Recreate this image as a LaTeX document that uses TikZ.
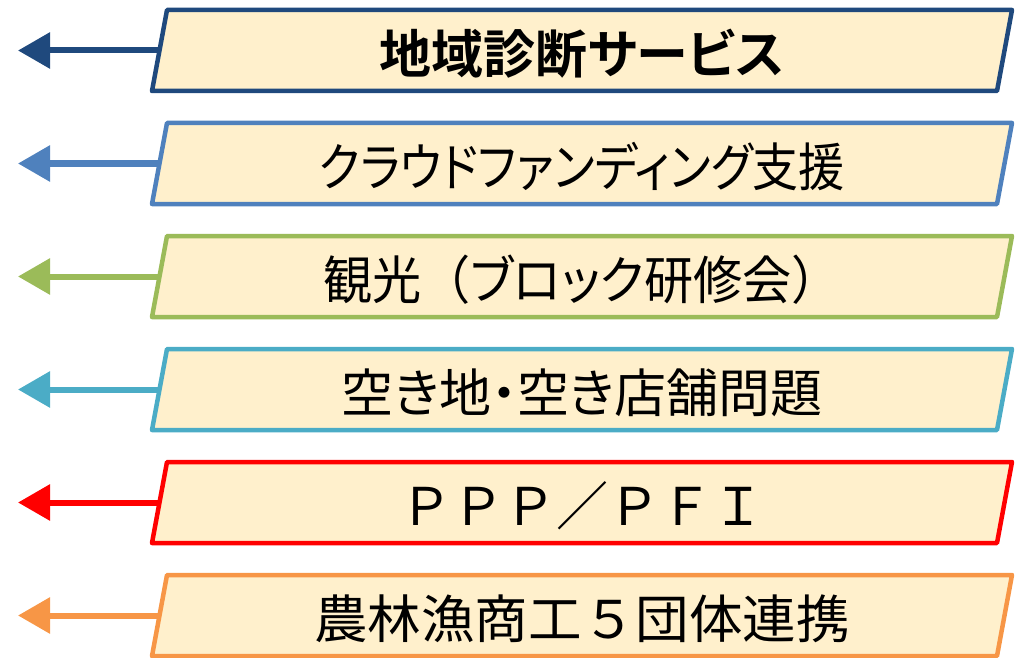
\documentclass[tikz,border=0pt]{standalone}
\usepackage{fontspec}
\usepackage{graphicx}
\newfontfamily\jpfull{Noto Sans CJK JP}[BoldFont={Noto Sans CJK JP Bold}]
\newfontfamily\jpprop{Noto Sans CJK JP}[RawFeature=+palt,BoldFont={Noto Sans CJK JP Bold}]
\usetikzlibrary{arrows.meta}
\definecolor{cA}{HTML}{1F497D}
\definecolor{cB}{HTML}{4F81BD}
\definecolor{cC}{HTML}{9BBB59}
\definecolor{cD}{HTML}{4BACC6}
\definecolor{cE}{HTML}{FF0000}
\definecolor{cF}{HTML}{F79646}
\definecolor{boxfill}{HTML}{FFF0CC}
\tikzset{
  panel/.style={line width=4.5pt, line join=round, fill=boxfill},
  lbl/.style={anchor=base, inner sep=0pt, font=\jpprop\fontsize{52pt}{52pt}\selectfont},
  leftarrow/.style={line width=6pt, -{Triangle[length=32pt,width=35pt]}},
}
\newcommand\mkrow[3]{%
  \pgfmathsetmacro\ty{10+113*#1}%
  \pgfmathsetmacro\by{91+113*#1}%
  \pgfmathsetmacro\my{50.5+113*#1}%
  \pgfmathsetmacro\bl{\my+23}%
  \coordinate (l#1) at (166,\my);
  \coordinate (t#1) at (18,\my);
  \draw[leftarrow, draw=#2, fill=#2] (l#1) -- (t#1);
  \draw[panel, draw=#2] (167,\ty) -- (1012,\ty) -- (997,\by) -- (152,\by) -- cycle;
  \node[lbl] (b#1) at (582,\bl) {#3};
}
\begin{document}
\begin{tikzpicture}[x=1pt,y=-1pt]
\useasboundingbox (0,0) rectangle (1020,658);
\mkrow{0}{cA}{\bfseries 地域診断サービス}
\mkrow{1}{cB}{\scalebox{0.885}[1]{クラウドファンディング支援}}
\mkrow{2}{cC}{\scalebox{0.945}[1]{観光{\jpfull （}ブロック研修会{\jpfull ）}}}
\mkrow{3}{cD}{空き地・空き店舗問題}
\mkrow{4}{cE}{\jpfull ＰＰＰ／ＰＦＩ}
\mkrow{5}{cF}{\scalebox{1.03}[1]{農林漁商工{\jpfull ５}団体連携}}
\end{tikzpicture}
\end{document}
